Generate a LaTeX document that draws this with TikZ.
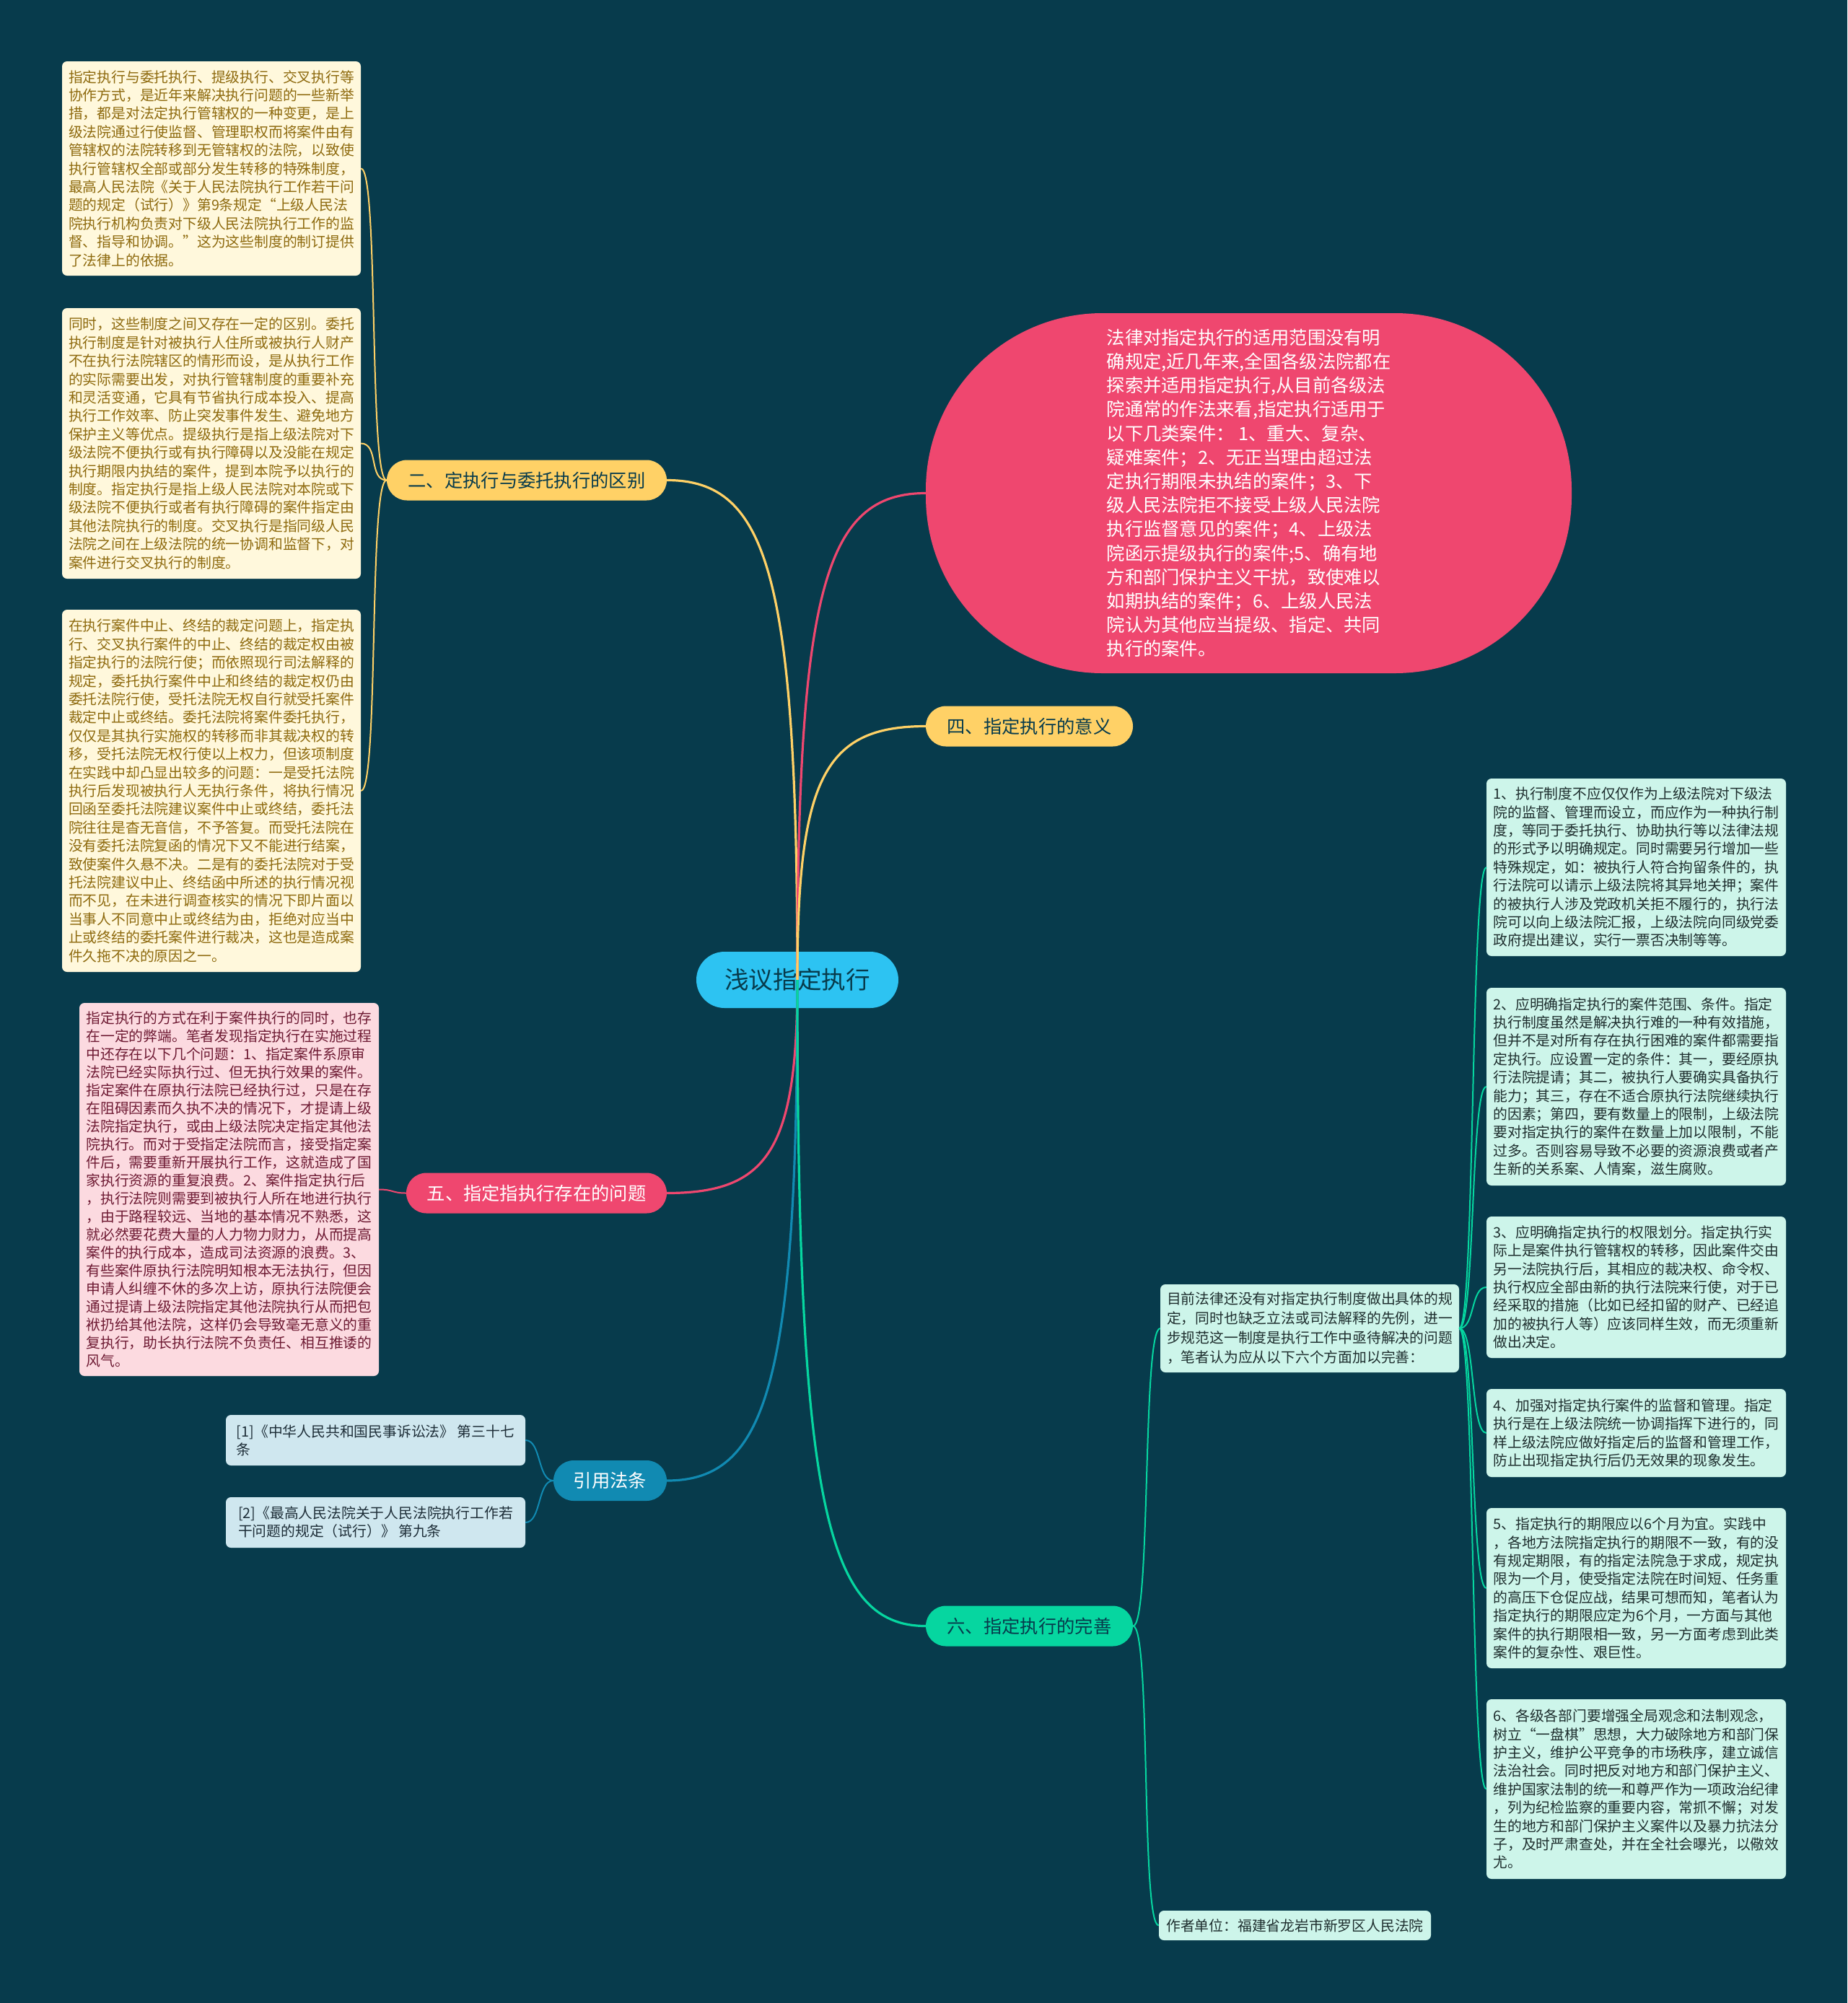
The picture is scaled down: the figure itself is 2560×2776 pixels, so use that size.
\documentclass[tikz,border=0pt]{standalone}
\usepackage{fontspec}
\newfontfamily\cjk{Noto Sans CJK SC}
\definecolor{bg}{HTML}{073B4C}
\definecolor{cRed}{HTML}{EF476F}
\definecolor{cYel}{HTML}{FFD166}
\definecolor{cGrn}{HTML}{06D6A0}
\definecolor{cBlu}{HTML}{118AB2}
\definecolor{cRoot}{HTML}{2DC3F2}
\definecolor{fY}{HTML}{FFF8DC}
\definecolor{tY}{HTML}{8E6A0E}
\definecolor{fP}{HTML}{FCDAE0}
\definecolor{tP}{HTML}{6E1A33}
\definecolor{fG}{HTML}{CDF5EA}
\definecolor{tG}{HTML}{1E2E2E}
\definecolor{fB}{HTML}{CFE7EF}
\definecolor{tB}{HTML}{1E2E38}
\begin{document}
\begin{tikzpicture}[x=1pt,y=-1pt,
  box/.style={rounded corners=7pt, inner sep=0pt, align=left, anchor=center},
  leafY/.style={box, fill=fY, text=tY, minimum width=414pt, font={\cjk\fontsize{19.8}{25.4}\selectfont}},
  leafP/.style={box, fill=fP, text=tP, minimum width=415pt, font={\cjk\fontsize{19.8}{25}\selectfont}},
  leafG/.style={box, fill=fG, text=tG, minimum width=415pt, font={\cjk\fontsize{19.8}{25.4}\selectfont}},
  leafB/.style={box, fill=fB, text=tB, minimum width=415pt, font={\cjk\fontsize{19.8}{25}\selectfont}},
  branch/.style={rounded corners=28pt, inner sep=0pt, anchor=center, minimum height=56pt, font={\cjk\fontsize{25.3}{30}\selectfont}},
  mainline/.style={line width=3.2pt},
  subline/.style={line width=2pt},
]
\useasboundingbox (0,0) rectangle (2560,2776);
\fill[bg] (0,0) rectangle (2560,2776);

% root
\node[rounded corners=39pt, fill=cRoot, text=bg, minimum width=280pt, minimum height=78pt, inner sep=0pt,
  font={\cjk\fontsize{33.6}{40}\selectfont}] (root) at (1105,1358) {浅议指定执行};

% branches
\node[branch, fill=cYel, text=bg, minimum width=388pt] (b2) at (730,665.5) {二、定执行与委托执行的区别};
\node[branch, fill=cYel, text=bg, minimum width=287pt] (b4) at (1426.5,1006.5) {四、指定执行的意义};
\node[branch, fill=cRed, text=white, minimum width=361pt] (b5) at (743.5,1653.5) {五、指定指执行存在的问题};
\node[branch, fill=cBlu, text=white, minimum width=157pt] (bref) at (845.5,2052) {引用法条};
\node[branch, fill=cGrn, text=bg, minimum width=287pt] (b6) at (1426.5,2253.5) {六、指定执行的完善};

% red blob
\node[rounded corners=245pt, fill=cRed, text=white, minimum width=895pt, minimum height=499pt, inner sep=0pt,
  align=left, font={\cjk\fontsize{25.3}{33.2}\selectfont}] (blob) at (1730.5,683.5) {法律对指定执行的适用范围没有明\\确规定,近几年来,全国各级法院都在\\探索并适用指定执行,从目前各级法\\院通常的作法来看,指定执行适用于\\以下几类案件： 1、重大、复杂、\\疑难案件；2、无正当理由超过法\\定执行期限未执结的案件；3、下\\级人民法院拒不接受上级人民法院\\执行监督意见的案件；4、上级法\\院函示提级执行的案件;5、确有地\\方和部门保护主义干扰，致使难以\\如期执结的案件；6、上级人民法\\院认为其他应当提级、指定、共同\\执行的案件。};

% left leaves
\node[leafY, minimum height=297pt] (l1) at (293,233.5) {指定执行与委托执行、提级执行、交叉执行等\\协作方式，是近年来解决执行问题的一些新举\\措，都是对法定执行管辖权的一种变更，是上\\级法院通过行使监督、管理职权而将案件由有\\管辖权的法院转移到无管辖权的法院，以致使\\执行管辖权全部或部分发生转移的特殊制度，\\最高人民法院《关于人民法院执行工作若干问\\题的规定（试行）》第9条规定“上级人民法\\院执行机构负责对下级人民法院执行工作的监\\督、指导和协调。”这为这些制度的制订提供\\了法律上的依据。};
\node[leafY, minimum height=375pt] (l2) at (293,614.5) {同时，这些制度之间又存在一定的区别。委托\\执行制度是针对被执行人住所或被执行人财产\\不在执行法院辖区的情形而设，是从执行工作\\的实际需要出发，对执行管辖制度的重要补充\\和灵活变通，它具有节省执行成本投入、提高\\执行工作效率、防止突发事件发生、避免地方\\保护主义等优点。提级执行是指上级法院对下\\级法院不便执行或有执行障碍以及没能在规定\\执行期限内执结的案件，提到本院予以执行的\\制度。指定执行是指上级人民法院对本院或下\\级法院不便执行或者有执行障碍的案件指定由\\其他法院执行的制度。交叉执行是指同级人民\\法院之间在上级法院的统一协调和监督下，对\\案件进行交叉执行的制度。};
\node[leafY, minimum height=502pt] (l3) at (293,1096) {在执行案件中止、终结的裁定问题上，指定执\\行、交叉执行案件的中止、终结的裁定权由被\\指定执行的法院行使；而依照现行司法解释的\\规定，委托执行案件中止和终结的裁定权仍由\\委托法院行使，受托法院无权自行就受托案件\\裁定中止或终结。委托法院将案件委托执行，\\仅仅是其执行实施权的转移而非其裁决权的转\\移，受托法院无权行使以上权力，但该项制度\\在实践中却凸显出较多的问题：一是受托法院\\执行后发现被执行人无执行条件，将执行情况\\回函至委托法院建议案件中止或终结，委托法\\院往往是杳无音信，不予答复。而受托法院在\\没有委托法院复函的情况下又不能进行结案，\\致使案件久悬不决。二是有的委托法院对于受\\托法院建议中止、终结函中所述的执行情况视\\而不见，在未进行调查核实的情况下即片面以\\当事人不同意中止或终结为由，拒绝对应当中\\止或终结的委托案件进行裁决，这也是造成案\\件久拖不决的原因之一。};
\node[leafP, minimum height=517pt] (p1) at (317.5,1648.5) {指定执行的方式在利于案件执行的同时，也存\\在一定的弊端。笔者发现指定执行在实施过程\\中还存在以下几个问题：1、指定案件系原审\\法院已经实际执行过、但无执行效果的案件。\\指定案件在原执行法院已经执行过，只是在存\\在阻碍因素而久执不决的情况下，才提请上级\\法院指定执行，或由上级法院决定指定其他法\\院执行。而对于受指定法院而言，接受指定案\\件后，需要重新开展执行工作，这就造成了国\\家执行资源的重复浪费。2、案件指定执行后\\，执行法院则需要到被执行人所在地进行执行\\，由于路程较远、当地的基本情况不熟悉，这\\就必然要花费大量的人力物力财力，从而提高\\案件的执行成本，造成司法资源的浪费。3、\\有些案件原执行法院明知根本无法执行，但因\\申请人纠缠不休的多次上访，原执行法院便会\\通过提请上级法院指定其他法院执行从而把包\\袱扔给其他法院，这样仍会导致毫无意义的重\\复执行，助长执行法院不负责任、相互推诿的\\风气。};
\node[leafB, minimum height=70pt] (r1ref) at (520.5,1996) {[1]《中华人民共和国民事诉讼法》 第三十七\\条};
\node[leafB, minimum height=70pt] (r2ref) at (520.5,2110) {[2]《最高人民法院关于人民法院执行工作若\\干问题的规定（试行）》 第九条};

% middle and right leaves
\node[leafG, minimum width=414pt, minimum height=122pt, font={\cjk\fontsize{19.8}{27}\selectfont}] (mid) at (1815,1841) {目前法律还没有对指定执行制度做出具体的规\\定，同时也缺乏立法或司法解释的先例，进一\\步规范这一制度是执行工作中亟待解决的问题\\，笔者认为应从以下六个方面加以完善：};
\node[leafG, minimum width=377pt, minimum height=41pt] (auth) at (1794.5,2668.5) {作者单位：福建省龙岩市新罗区人民法院};
\node[leafG, minimum height=246pt] (g1) at (2267.5,1202) {1、执行制度不应仅仅作为上级法院对下级法\\院的监督、管理而设立，而应作为一种执行制\\度，等同于委托执行、协助执行等以法律法规\\的形式予以明确规定。同时需要另行增加一些\\特殊规定，如：被执行人符合拘留条件的，执\\行法院可以请示上级法院将其异地关押；案件\\的被执行人涉及党政机关拒不履行的，执行法\\院可以向上级法院汇报，上级法院向同级党委\\政府提出建议，实行一票否决制等等。};
\node[leafG, minimum height=274pt] (g2) at (2267.5,1506) {2、应明确指定执行的案件范围、条件。指定\\执行制度虽然是解决执行难的一种有效措施，\\但并不是对所有存在执行困难的案件都需要指\\定执行。应设置一定的条件：其一，要经原执\\行法院提请；其二，被执行人要确实具备执行\\能力；其三，存在不适合原执行法院继续执行\\的因素；第四，要有数量上的限制，上级法院\\要对指定执行的案件在数量上加以限制，不能\\过多。否则容易导致不必要的资源浪费或者产\\生新的关系案、人情案，滋生腐败。};
\node[leafG, minimum height=196pt] (g3) at (2267.5,1784) {3、应明确指定执行的权限划分。指定执行实\\际上是案件执行管辖权的转移，因此案件交由\\另一法院执行后，其相应的裁决权、命令权、\\执行权应全部由新的执行法院来行使，对于已\\经采取的措施（比如已经扣留的财产、已经追\\加的被执行人等）应该同样生效，而无须重新\\做出决定。};
\node[leafG, minimum height=122pt] (g4) at (2267.5,1986) {4、加强对指定执行案件的监督和管理。指定\\执行是在上级法院统一协调指挥下进行的，同\\样上级法院应做好指定后的监督和管理工作，\\防止出现指定执行后仍无效果的现象发生。};
\node[leafG, minimum height=222pt] (g5) at (2267.5,2201) {5、指定执行的期限应以6个月为宜。实践中\\，各地方法院指定执行的期限不一致，有的没\\有规定期限，有的指定法院急于求成，规定执\\限为一个月，使受指定法院在时间短、任务重\\的高压下仓促应战，结果可想而知，笔者认为\\指定执行的期限应定为6个月，一方面与其他\\案件的执行期限相一致，另一方面考虑到此类\\案件的复杂性、艰巨性。};
\node[leafG, minimum height=249pt] (g6) at (2267.5,2479.5) {6、各级各部门要增强全局观念和法制观念，\\树立“一盘棋”思想，大力破除地方和部门保\\护主义，维护公平竞争的市场秩序，建立诚信\\法治社会。同时把反对地方和部门保护主义、\\维护国家法制的统一和尊严作为一项政治纪律\\，列为纪检监察的重要内容，常抓不懈；对发\\生的地方和部门保护主义案件以及暴力抗法分\\子，及时严肃查处，并在全社会曝光，以儆效\\尤。};

% main connectors
\draw[mainline, cYel] (root.center) .. controls +(0,-560) and +(140,0) .. (b2.east);
\draw[mainline, cRed] (root.center) .. controls +(0,-540) and +(-140,0) .. (blob.west);
\draw[mainline, cYel] (root.center) .. controls +(0,-280) and +(-140,0) .. (b4.west);
\draw[mainline, cRed] (root.center) .. controls +(0,236) and +(140,0) .. (b5.east);
\draw[mainline, cBlu] (root.center) .. controls +(0,555) and +(140,0) .. (bref.east);
\draw[mainline, cGrn] (root.center) .. controls +(0,717) and +(-140,0) .. (b6.west);

% sub connectors
\foreach \t in {l1,l2,l3}
  \draw[subline, cYel] (b2.west) .. controls +(-25,0) and +(25,0) .. (\t.east);
\draw[subline, cRed] (b5.west) .. controls +(-20,0) and +(20,0) .. (p1.east);
\foreach \t in {r1ref,r2ref}
  \draw[subline, cBlu] (bref.west) .. controls +(-22,0) and +(22,0) .. (\t.east);
\foreach \t in {mid,auth}
  \draw[subline, cGrn] (b6.east) .. controls +(25,0) and +(-25,0) .. (\t.west);
\foreach \t in {g1,g2,g3,g4,g5,g6}
  \draw[subline, cGrn] (mid.east) .. controls +(22,0) and +(-22,0) .. (\t.west);
\end{tikzpicture}
\end{document}
